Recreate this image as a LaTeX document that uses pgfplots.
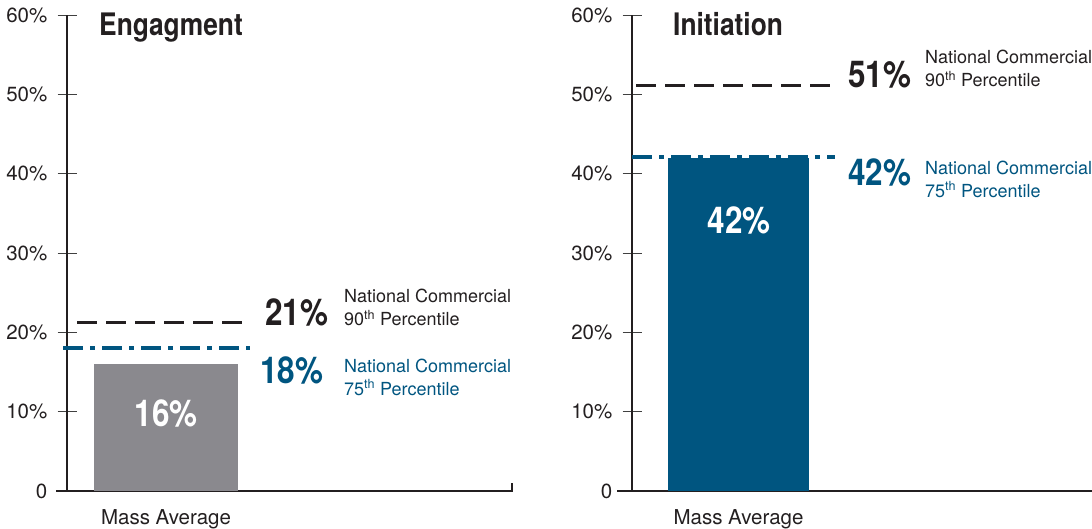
\documentclass[border=0pt]{standalone}
\usepackage{fontspec}
\setmainfont{TeX Gyre Heros}
\newfontfamily\condb[FakeStretch=0.85]{TeX Gyre Heros}
\usepackage{pgfplots}
\pgfplotsset{compat=1.18}
\definecolor{nblue}{RGB}{0,85,128}
\definecolor{ngray}{RGB}{138,137,142}
\definecolor{nblack}{RGB}{35,31,32}
\pgfplotsset{panel/.style={
  scale only axis, height=476pt,
  ymin=0, ymax=60, xmin=0,
  axis lines=left,
  axis line style={-, draw=nblack, line width=1.3pt},
  clip=false,
  ytick={0,10,20,30,40,50,60},
  yticklabels={0,10\%,20\%,30\%,40\%,50\%,60\%},
  /pgf/number format/assume math mode=true,
  tick align=center,
  major tick length=19pt,
  ytick style={draw=black!75, line width=0.8pt},
  xtick style={draw=none},
  yticklabel style={anchor=east, inner sep=0pt, xshift=-10pt, font=\fontsize{20.5pt}{20.5pt}\selectfont, text=nblack},
  xticklabel style={anchor=base, inner sep=0pt, yshift=-24pt, font=\fontsize{20.5pt}{20.5pt}\selectfont, text=nblack},
}}
\begin{document}
\begin{tikzpicture}[x=1pt,y=1pt]
\path[use as bounding box] (0,0) rectangle (1092,529);
% ---------------- Left panel: Engagement ----------------
\begin{axis}[panel, at={(67pt,38pt)}, anchor=south west, width=445pt, xmax=445,
  xtick={99}, xticklabels={Mass Average}]
  \addplot[ybar, bar width=144, fill=ngray, draw=none] coordinates {(99,16)};
  \addplot[nblack, line width=3pt, dash pattern=on 20pt off 9pt] coordinates {(10,21.3) (178,21.3)};
  \addplot[nblue, line width=4pt, dash pattern=on 20pt off 7pt on 5pt off 7pt] coordinates {(-4,18) (183,18)};
  \draw[nblack, line width=1.3pt] (axis cs:0,0) -- ++(-15pt,0);
  \draw[nblack, line width=1.3pt] (axis cs:445,-0.1) -- (axis cs:445,1);
\end{axis}
% ---------------- Right panel: Initiation ----------------
\begin{axis}[panel, at={(632pt,38pt)}, anchor=south west, width=470pt, xmax=470,
  xtick={106.5}, xticklabels={Mass Average}]
  \addplot[nblue, line width=4pt, dash pattern=on 20pt off 7pt on 5pt off 7pt] coordinates {(0,42.1) (203,42.1)};
  \addplot[ybar, bar width=141, fill=nblue, draw=none] coordinates {(106.5,42)};
  \addplot[nblack, line width=3pt, dash pattern=on 20pt off 9pt] coordinates {(4,51.1) (198,51.1)};
  \draw[nblack, line width=1.3pt] (axis cs:0,0) -- ++(-15pt,0);
\end{axis}
% ---------------- Titles ----------------
\node[anchor=base west, inner sep=0pt, text=nblack] at (99,493) {\condb\bfseries\fontsize{31pt}{31pt}\selectfont Engagment};
\node[anchor=base west, inner sep=0pt, text=nblack] at (673,493) {\condb\bfseries\fontsize{31pt}{31pt}\selectfont Initiation};
% ---------------- Bar value labels ----------------
\node[inner sep=0pt, text=white] at (166,116) {\condb\bfseries\fontsize{37pt}{37pt}\selectfont 16\%};
\node[inner sep=0pt, text=white] at (739,309) {\condb\bfseries\fontsize{37pt}{37pt}\selectfont 42\%};
% ---------------- Benchmark labels, left ----------------
\node[anchor=west, inner sep=0pt, text=nblack] at (265,217) {\condb\bfseries\fontsize{37pt}{37pt}\selectfont 21\%};
\node[anchor=west, inner sep=0pt, text=nblack, align=left, font=\fontsize{18pt}{23pt}\selectfont] at (344,221.5) {National Commercial\\90\textsuperscript{th} Percentile};
\node[anchor=west, inner sep=0pt, text=nblue] at (260,159) {\condb\bfseries\fontsize{37pt}{37pt}\selectfont 18\%};
\node[anchor=west, inner sep=0pt, text=nblue, align=left, font=\fontsize{18pt}{23pt}\selectfont] at (344,152) {National Commercial\\75\textsuperscript{th} Percentile};
% ---------------- Benchmark labels, right ----------------
\node[anchor=west, inner sep=0pt, text=nblack] at (848,454) {\condb\bfseries\fontsize{37pt}{37pt}\selectfont 51\%};
\node[anchor=west, inner sep=0pt, text=nblack, align=left, font=\fontsize{18pt}{23pt}\selectfont] at (925,460.5) {National Commercial\\90\textsuperscript{th} Percentile};
\node[anchor=west, inner sep=0pt, text=nblue] at (848,357) {\condb\bfseries\fontsize{37pt}{37pt}\selectfont 42\%};
\node[anchor=west, inner sep=0pt, text=nblue, align=left, font=\fontsize{18pt}{23pt}\selectfont] at (925,350) {National Commercial\\75\textsuperscript{th} Percentile};
\end{tikzpicture}
\end{document}
